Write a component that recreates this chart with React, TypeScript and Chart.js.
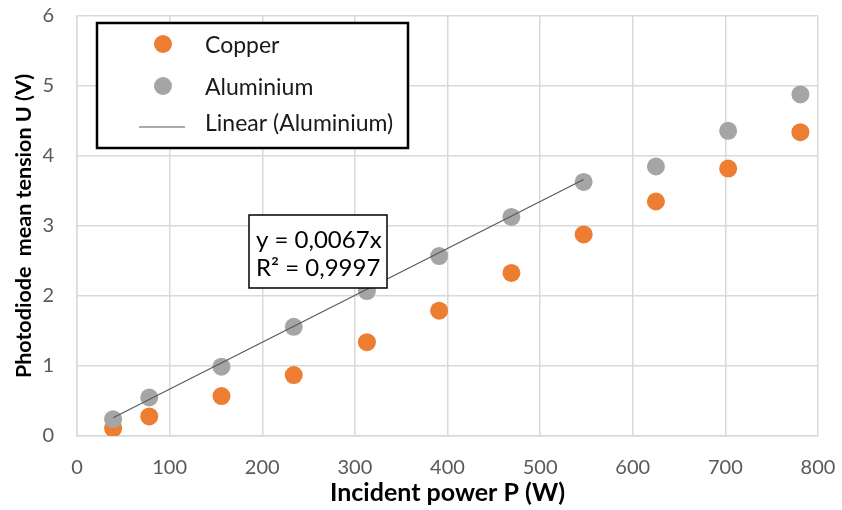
import React, { useEffect, useRef } from "react";
import { Chart, registerables } from "chart.js";

Chart.register(...registerables);

const powerW = [39, 78, 156, 234, 313, 391, 469, 547, 625, 703, 781];
const copperV = [0.11, 0.28, 0.57, 0.87, 1.34, 1.79, 2.33, 2.88, 3.35, 3.82, 4.34];
const aluminiumV = [0.24, 0.55, 0.99, 1.56, 2.07, 2.57, 3.13, 3.63, 3.85, 4.36, 4.88];
const trendSlope = 0.0067;
const trendRange = [39, 547];
const equationLines = ["y = 0,0067x", "R² = 0,9997"];
const legendLabels = ["Copper", "Aluminium", "Linear (Aluminium)"];
const xAxisTitle = "Incident power P (W)";
const yAxisTitle = "Photodiode  mean tension U (V)";

const ORANGE = "#ED7D31";
const GRAY = "#A5A5A5";
const TREND = "#595959";
const GRID = "#D9D9D9";
const FONT = "Lato, 'Open Sans', sans-serif";

const overlayPlugin = {
  id: "overlay",
  afterDraw(chart: any) {
    const ctx = chart.ctx as CanvasRenderingContext2D;
    const area = chart.chartArea;
    ctx.save();
    // y axis title
    ctx.save();
    ctx.translate(24, (area.top + area.bottom) / 2);
    ctx.rotate(-Math.PI / 2);
    ctx.fillStyle = "#000000";
    ctx.font = `bold 21.5px ${FONT}`;
    ctx.textAlign = "center";
    ctx.textBaseline = "middle";
    ctx.fillText(yAxisTitle, 0, 0);
    ctx.restore();

    // legend box
    ctx.fillStyle = "#ffffff";
    ctx.fillRect(97, 23, 311, 125);
    ctx.strokeStyle = "#000000";
    ctx.lineWidth = 2.5;
    ctx.strokeRect(97, 23, 311, 125);
    const rows = [44, 86, 122];
    ctx.fillStyle = ORANGE;
    ctx.beginPath();
    ctx.arc(163, rows[0], 9, 0, Math.PI * 2);
    ctx.fill();
    ctx.fillStyle = GRAY;
    ctx.beginPath();
    ctx.arc(163, rows[1], 9, 0, Math.PI * 2);
    ctx.fill();
    ctx.strokeStyle = TREND;
    ctx.lineWidth = 1.2;
    ctx.beginPath();
    ctx.moveTo(139, 127);
    ctx.lineTo(185, 127);
    ctx.stroke();
    ctx.fillStyle = "#1a1a1a";
    ctx.font = `23px ${FONT}`;
    ctx.textBaseline = "middle";
    ctx.textAlign = "left";
    legendLabels.forEach((l, i) => ctx.fillText(l, 205, rows[i] + 2));

    // equation box
    ctx.fillStyle = "#ffffff";
    ctx.fillRect(249, 215, 138, 73);
    ctx.strokeStyle = "#000000";
    ctx.lineWidth = 1.5;
    ctx.strokeRect(249, 215, 138, 73);
    ctx.fillStyle = "#000000";
    ctx.font = `24px ${FONT}`;
    ctx.fillText(equationLines[0], 256, 240);
    ctx.fillText(equationLines[1], 256, 268);
    ctx.restore();
  },
};

export default function App() {
  const ref = useRef<HTMLCanvasElement>(null);
  useEffect(() => {
    if (!ref.current) return;
    const chart = new Chart(ref.current, {
      type: "scatter",
      data: {
        datasets: [
          {
            type: "line",
            label: legendLabels[2],
            data: trendRange.map((x) => ({ x, y: trendSlope * x })),
            borderColor: TREND,
            borderWidth: 1.2,
            pointRadius: 0,
            showLine: true,
            fill: false,
            order: 0,
          } as any,
          {
            label: legendLabels[1],
            data: powerW.map((x, i) => ({ x, y: aluminiumV[i] })),
            backgroundColor: GRAY,
            borderColor: GRAY,
            pointRadius: 9,
            borderWidth: 0,
            order: 1,
          },
          {
            label: legendLabels[0],
            data: powerW.map((x, i) => ({ x, y: copperV[i] })),
            backgroundColor: ORANGE,
            borderColor: ORANGE,
            pointRadius: 9,
            borderWidth: 0,
            order: 2,
          },
        ],
      },
      options: {
        animation: false,
        responsive: false,
        layout: { autoPadding: false, padding: { top: 16, right: 24, left: 0, bottom: 0 } },
        plugins: { legend: { display: false }, tooltip: { enabled: false } },
        scales: {
          x: {
            type: "linear",
            min: 0,
            max: 800,
            ticks: {
              stepSize: 100,
              color: "#595959",
              font: { family: FONT, size: 20 },
              padding: 0,
            },
            grid: { color: GRID, lineWidth: 1.5, drawTicks: true, tickLength: 20, tickColor: "rgba(0,0,0,0)" },
            border: { color: GRID, width: 1.5 },
            title: {
              display: true,
              text: xAxisTitle,
              color: "#000000",
              font: { family: FONT, size: 25, weight: "bold" },
              padding: { top: 0, bottom: 2 },
            },
            afterFit(scale: any) {
              scale.height = 74;
            },
          },
          y: {
            type: "linear",
            min: 0,
            max: 6,
            ticks: {
              stepSize: 1,
              color: "#595959",
              font: { family: FONT, size: 20 },
              padding: 0,
            },
            grid: { color: GRID, lineWidth: 1.5, drawTicks: true, tickLength: 23, tickColor: "rgba(0,0,0,0)" },
            border: { color: GRID, width: 1.5 },
            title: { display: false },
            afterFit(scale: any) {
              scale.width = 77;
            },
          },
        },
      },
      plugins: [overlayPlugin],
    });
    return () => chart.destroy();
  }, []);
  return (
    <div style={{ position: "absolute", left: 0, top: 0, width: 842, height: 510, background: "#fff" }}>
      <canvas ref={ref} width={842} height={510} />
    </div>
  );
}
